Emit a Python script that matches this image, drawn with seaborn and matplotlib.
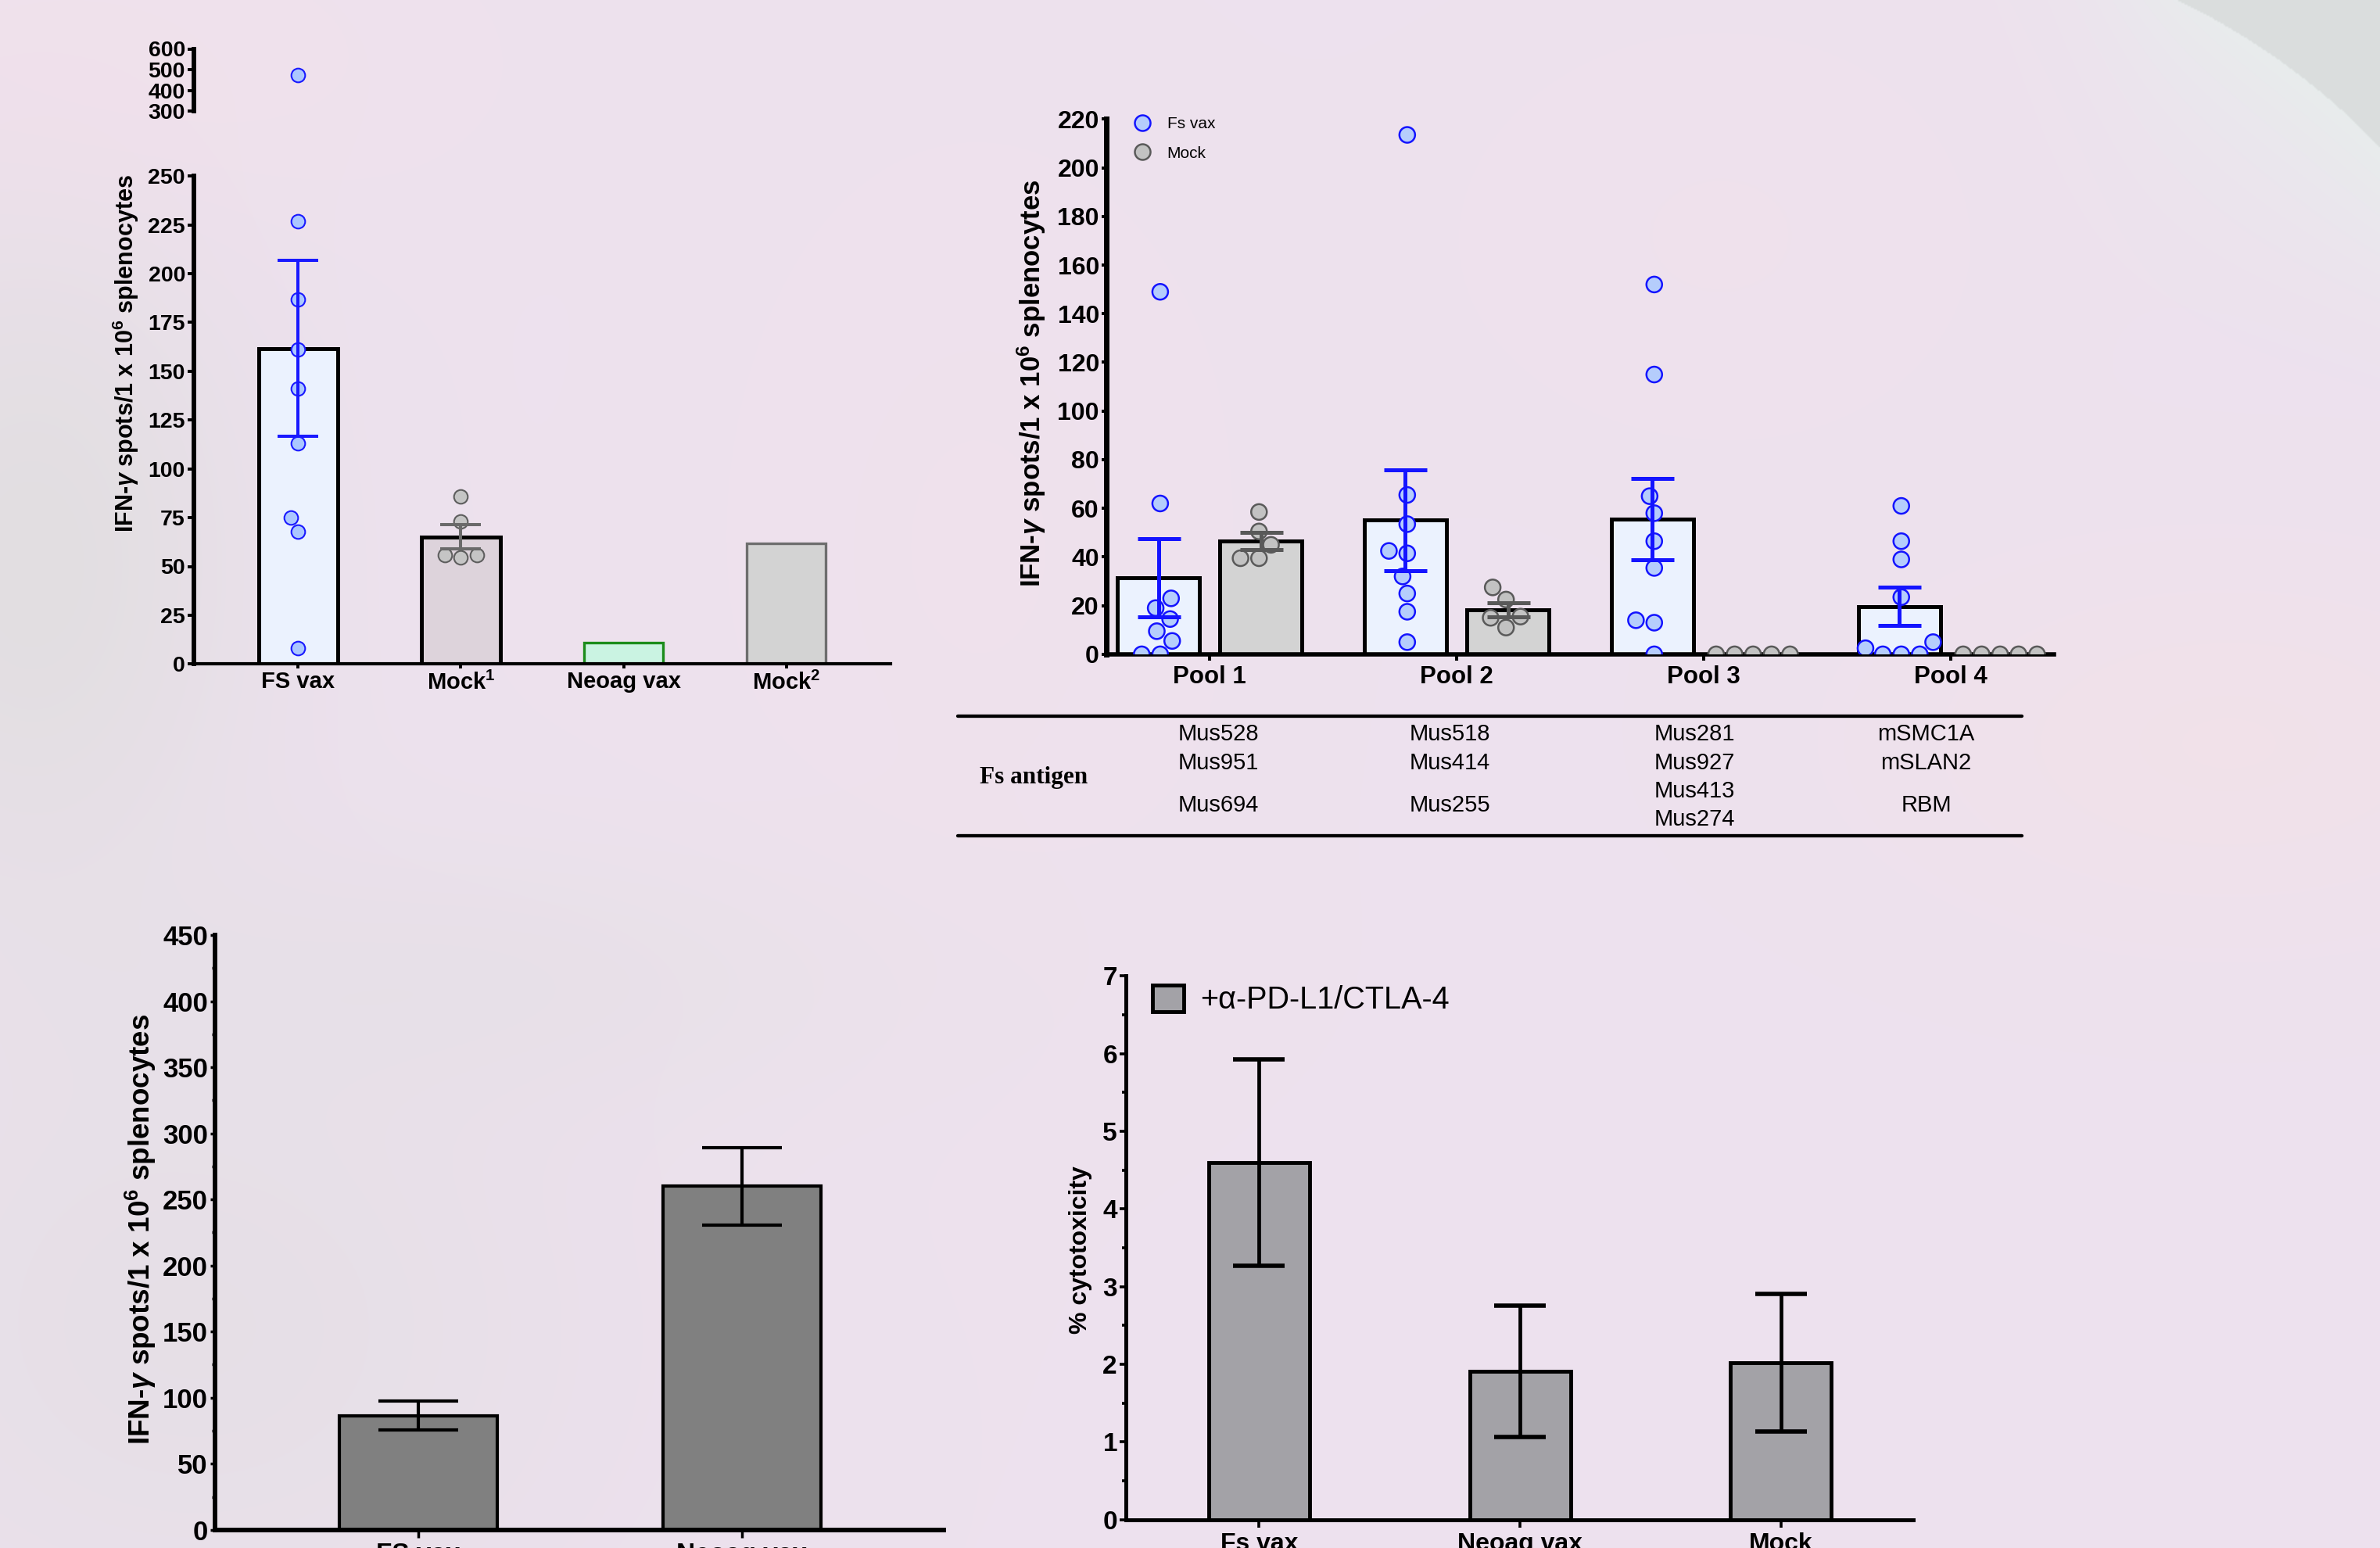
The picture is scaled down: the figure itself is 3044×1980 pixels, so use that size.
import warnings
warnings.filterwarnings("ignore")
import numpy as np
import pandas as pd
import matplotlib
matplotlib.use("Agg")
import matplotlib.pyplot as plt
from matplotlib.lines import Line2D
from matplotlib.patches import Patch
from matplotlib.ticker import MultipleLocator
import seaborn as sns

# ------------------------------------------------------------------ data
# Panel A (ELISpot, individual mice)
a_groups = ["FS vax", "Mock$^1$", "Neoag vax", "Mock$^2$"]
a_fs_vax = [475, 227, 187, 161, 141, 113, 75, 68, 8]
a_mock1 = [86, 73, 54.5, 56, 56]
a_neoag = [11]
a_mock2 = [62]

# Panel B (peptide pools)
b_pools = ["Pool 1", "Pool 2", "Pool 3", "Pool 4"]
b_groups = ["Fs vax", "Mock"]
b_fs_pool1 = [149, 62, 23, 19, 14.5, 9.5, 5.5, 0, 0]
b_fs_pool2 = [213.5, 65.5, 53.5, 42.5, 41.5, 32, 25, 17.5, 5]
b_fs_pool3 = [152, 115, 65, 58, 46.5, 35.5, 14, 13, 0]
b_fs_pool4 = [61, 46.5, 39, 23.5, 5, 2.5, 0, 0, 0]
b_mock_pool1 = [58.5, 50.5, 45, 39.5, 39.5]
b_mock_pool2 = [27.5, 22.5, 15.5, 15, 11]
b_mock_pool3 = [0, 0, 0, 0, 0]
b_mock_pool4 = [0, 0, 0, 0, 0]

# Table under panel B
tbl_header = "Fs antigen"
tbl_pool1 = ["Mus528", "Mus951", "Mus694"]
tbl_pool2 = ["Mus518", "Mus414", "Mus255"]
tbl_pool3 = ["Mus281", "Mus927", "Mus413", "Mus274"]
tbl_pool4 = ["mSMC1A", "mSLAN2", "RBM"]

# Panel C
c_groups = ["FS vax", "Neoag vax"]
c_means = [86.5, 260]
c_errs = [10.8, 29.3]

# Panel D
d_groups = ["Fs vax", "Neoag vax", "Mock"]
d_means = [4.6, 1.91, 2.02]
d_errs = [1.33, 0.85, 0.89]
d_legend = "+\u03b1-PD-L1/CTLA-4"

ylabel_ifn = "IFN-$\\gamma$ spots/1 x 10$^{\\mathbf{6}}$ splenocytes"

# ------------------------------------------------------------------ style
sns.set_theme(style="ticks")
plt.rcParams.update({
    "font.family": ["Liberation Sans", "DejaVu Sans"],
    "font.weight": "bold",
    "mathtext.fontset": "custom",
    "mathtext.rm": "Liberation Sans",
    "mathtext.it": "Liberation Sans:italic",
    "mathtext.bf": "Liberation Sans:bold",
    "axes.edgecolor": "black",
    "xtick.color": "black",
    "ytick.color": "black",
    "text.color": "black",
    "axes.labelcolor": "black",
})

W, H = 3044, 1980
fig = plt.figure(figsize=(W / 100, H / 100), dpi=100)
fig.patch.set_facecolor("#ece1ee")


def rect(l, t, r, b):
    return [l / W, 1 - b / H, (r - l) / W, (b - t) / H]


def fx(x):
    return x / W


def fy(y):
    return 1 - y / H


# ------------------------------------------------------------------ background
yy, xx = np.mgrid[0:990, 0:1522].astype(float)
xx *= 2.0
yy *= 2.0
img = np.empty((990, 1522, 3))
img[:] = (0.930, 0.884, 0.934)


def blend(weight, color):
    w = np.clip(weight, 0, 1)[..., None]
    img[:] = img * (1 - w) + np.asarray(color) * w


def gauss(cx, cy, sx, sy):
    return np.exp(-0.5 * (((xx - cx) / sx) ** 2 + ((yy - cy) / sy) ** 2))


blend(0.7 * gauss(40, 720, 200, 320), (0.868, 0.868, 0.862))
blend(0.55 * gauss(250, 1700, 380, 320), (0.882, 0.872, 0.882))
blend(0.4 * gauss(650, 1250, 380, 120), (0.885, 0.88, 0.885))
blend(0.55 * gauss(2850, 950, 300, 160), (0.958, 0.882, 0.902))
blend(0.45 * gauss(150, 80, 300, 150), (0.958, 0.882, 0.918))
blend(0.35 * gauss(1250, 700, 250, 400), (0.952, 0.886, 0.918))
blend(0.35 * gauss(2200, 300, 250, 200), (0.952, 0.888, 0.92))
d = np.hypot(xx - 2400, yy - 800)
win = 1 / (1 + np.exp(-(xx - 2700) / 60)) / (1 + np.exp((yy - 380) / 60))
blend(0.85 * np.exp(-np.clip(888 - d, 0, None) / 160) * win, (0.905, 0.935, 0.925))
outside = (d > 888) & (xx > 2400) & (yy < 800)
img[outside] = (0.855, 0.870, 0.870)

ax_bg = fig.add_axes([0, 0, 1, 1], zorder=-5)
ax_bg.imshow(img, extent=[0, W, H, 0], aspect="auto", interpolation="bilinear")
ax_bg.set_axis_off()

# ------------------------------------------------------------------ panel A
axA = fig.add_axes(rect(248, 225.3, 1139, 849.3), facecolor="none")
axAu = fig.add_axes(rect(248, 62.5, 1139, 142.2), facecolor="none")

a_df = pd.DataFrame({
    "group": [a_groups[0]] * len(a_fs_vax) + [a_groups[1]] * len(a_mock1)
    + [a_groups[2]] * len(a_neoag) + [a_groups[3]] * len(a_mock2),
    "value": a_fs_vax + a_mock1 + a_neoag + a_mock2,
})
a_face = ["#ebf2fe", "#ddd3db", "#caf3e2", "#d3d3d3"]
a_edge = ["black", "black", "#1c8c1c", "#6e6e6e"]
a_lw = [3.6, 3.6, 2.4, 2.4]

sns.barplot(data=a_df, x="group", y="value", hue="group", order=a_groups,
            hue_order=a_groups, palette=dict(zip(a_groups, a_face)), saturation=1,
            errorbar=None, width=0.485, edgecolor="black", linewidth=3.6,
            legend=False, ax=axA)
for p in axA.patches:
    i = int(round(p.get_x() + p.get_width() / 2))
    p.set_edgecolor(a_edge[i])
    p.set_linewidth(a_lw[i])

a_pt_style = {a_groups[0]: ("#abc7ff", "#1919ff"), a_groups[1]: ("#c5c5c5", "#5e5e5e")}
for ax in (axA, axAu):
    for g, (fc, ec) in a_pt_style.items():
        sns.swarmplot(data=a_df[a_df.group == g], x="group", y="value", order=a_groups,
                      color=fc, edgecolor=ec, linewidth=1.5, size=12.7, ax=ax, zorder=4)

a_stats = a_df.groupby("group")["value"].agg(["mean", "sem"])
a_err_color = {a_groups[0]: "#1919ff", a_groups[1]: "#6a6a6a"}
for p in list(axA.patches):
    c = p.get_x() + p.get_width() / 2
    g = a_groups[int(round(c))]
    if g in a_err_color:
        axA.errorbar(c, a_stats.loc[g, "mean"], yerr=a_stats.loc[g, "sem"],
                     color=a_err_color[g], lw=2.9, capsize=18.4, capthick=2.9, zorder=5)

axA.set_ylim(0, 250)
axA.set_xlim(-0.64, 3.64)
axA.yaxis.set_major_locator(MultipleLocator(25))
axA.set_xlabel("")
axA.set_ylabel("")
for s in ("top", "right"):
    axA.spines[s].set_visible(False)
axA.spines["left"].set_linewidth(4.2)
axA.spines["bottom"].set_linewidth(3.0)
axA.tick_params(axis="y", length=6, width=2.8, labelsize=20.5, pad=2)
axA.tick_params(axis="x", length=4.5, width=2.8, labelsize=21, pad=2)

axAu.set_ylim(300, 600)
axAu.set_xlim(-0.64, 3.64)
axAu.yaxis.set_major_locator(MultipleLocator(100))
axAu.set_xticks([])
axAu.set_xlabel("")
axAu.set_ylabel("")
for s in ("top", "right", "bottom"):
    axAu.spines[s].set_visible(False)
axAu.spines["left"].set_linewidth(4.2)
axAu.tick_params(axis="y", length=6, width=2.8, labelsize=20.5, pad=2)

fig.text(fx(161), fy(452), ylabel_ifn, rotation=90, ha="center", va="center",
         fontsize=22, fontweight="bold")

# ------------------------------------------------------------------ panel B
axB = fig.add_axes(rect(1415, 152.3, 2627, 836.9), facecolor="none")
b_fs = [b_fs_pool1, b_fs_pool2, b_fs_pool3, b_fs_pool4]
b_mock = [b_mock_pool1, b_mock_pool2, b_mock_pool3, b_mock_pool4]
rows = []
for pool, fs, mk in zip(b_pools, b_fs, b_mock):
    rows += [(pool, b_groups[0], v) for v in fs]
    rows += [(pool, b_groups[1], v) for v in mk]
b_df = pd.DataFrame(rows, columns=["pool", "group", "value"])

b_bar_face = {b_groups[0]: "#ebf2fe", b_groups[1]: "#d3d3d3"}
b_pt_face = {b_groups[0]: "#b5cdfc", b_groups[1]: "#c2c2c2"}
b_pt_edge = {b_groups[0]: "#1414ff", b_groups[1]: "#5a5a5a"}
b_err_color = {b_groups[0]: "#1414ff", b_groups[1]: "#595959"}

sns.barplot(data=b_df, x="pool", y="value", hue="group", order=b_pools,
            hue_order=b_groups, palette=b_bar_face, saturation=1, errorbar=None,
            width=0.83, gap=0.2, edgecolor="black", linewidth=3.6, legend=False, ax=axB)
for g in b_groups:
    sns.swarmplot(data=b_df[b_df.group == g], x="pool", y="value", hue="group",
                  order=b_pools, hue_order=b_groups, palette=b_pt_face, dodge=True,
                  size=14.4, edgecolor=b_pt_edge[g], linewidth=1.8, legend=False,
                  ax=axB, zorder=4)

b_stats = b_df.groupby(["pool", "group"])["value"].agg(["mean", "sem"])
for p in list(axB.patches):
    c = p.get_x() + p.get_width() / 2
    i = int(round(c))
    g = b_groups[0] if c < i else b_groups[1]
    m, s = b_stats.loc[(b_pools[i], g)]
    if s > 0:
        axB.errorbar(c, m, yerr=s, color=b_err_color[g], lw=3.6, capsize=19.8,
                     capthick=3.6, zorder=5)

axB.set_ylim(0, 220)
axB.set_xlim(-0.418, 3.418)
axB.yaxis.set_major_locator(MultipleLocator(20))
axB.set_xlabel("")
axB.set_ylabel("")
for s in ("top", "right"):
    axB.spines[s].set_visible(False)
axB.spines["left"].set_linewidth(5.0)
axB.spines["bottom"].set_linewidth(4.0)
axB.tick_params(axis="y", length=4.5, width=2.9, labelsize=23, pad=2)
axB.tick_params(axis="x", length=6, width=2.9, labelsize=22.5, pad=4)

handles = [Line2D([], [], ls="", marker="o", markersize=14.4,
                  markerfacecolor=b_pt_face[g], markeredgecolor=b_pt_edge[g],
                  markeredgewidth=1.8) for g in b_groups]
axB.legend(handles, b_groups, loc="upper left", bbox_to_anchor=(fx(1451), fy(149)),
           bbox_transform=fig.transFigure, frameon=False, borderpad=0, borderaxespad=0,
           handlelength=1.0, handletextpad=1.0, labelspacing=0.9,
           prop={"size": 15, "weight": "normal"})

fig.text(fx(1318.8), fy(490), ylabel_ifn, rotation=90, ha="center", va="center",
         fontsize=25, fontweight="bold")

# ------------------------------------------------------------------ table
for yl in (915.7, 1069):
    fig.add_artist(Line2D([fx(1225), fx(2586)], [fy(yl), fy(yl)],
                          transform=fig.transFigure, color="black", lw=3.1))
fig.text(fx(1322), fy(995), tbl_header, family=["Liberation Serif", "DejaVu Serif"],
         fontweight="bold", fontsize=22.5, ha="center", va="center")
tbl_cols_x = [1558, 1854, 2167.5, 2463.6]
for x, items in zip(tbl_cols_x, [tbl_pool1, tbl_pool2, tbl_pool3, tbl_pool4]):
    n_rest = len(items) - 2
    ys = [939.3, 976.3] + [1030 + (k - (n_rest - 1) / 2) * 36.6 for k in range(n_rest)]
    for yv, s in zip(ys, items):
        fig.text(fx(x), fy(yv), s, ha="center", va="center", fontsize=21,
                 fontweight="normal")

# ------------------------------------------------------------------ panel C
axC = fig.add_axes(rect(275, 1196, 1207, 1956.8), facecolor="none")
sns.barplot(x=c_groups, y=c_means, order=c_groups, color="#808080", saturation=1,
            width=0.488, edgecolor="black", linewidth=3.0, errorbar=None, ax=axC)
for p, m, e in zip(sorted(axC.patches, key=lambda q: q.get_x()), c_means, c_errs):
    axC.errorbar(p.get_x() + p.get_width() / 2, m, yerr=e, color="black", lw=3.0,
                 capsize=37, capthick=3.0, zorder=5)
axC.set_ylim(0, 450)
axC.set_xlim(-0.628, 1.624)
axC.yaxis.set_major_locator(MultipleLocator(50))
axC.yaxis.set_minor_locator(MultipleLocator(25))
for s in ("top", "right"):
    axC.spines[s].set_visible(False)
axC.spines["left"].set_linewidth(4.2)
axC.spines["bottom"].set_linewidth(4.2)
axC.tick_params(axis="y", which="major", length=4.5, width=2.5, labelsize=25, pad=2)
axC.tick_params(axis="y", which="minor", length=3.2, width=2.5)
axC.tick_params(axis="x", length=7, width=2.5, labelsize=24, pad=5)
axC.set_xlabel("")
axC.set_ylabel("")
fig.text(fx(180), fy(1572), ylabel_ifn, rotation=90, ha="center", va="center",
         fontsize=26.5, fontweight="bold")

# ------------------------------------------------------------------ panel D
axD = fig.add_axes(rect(1440, 1248.3, 2446.6, 1943.7), facecolor="none")
d_color = "#a3a2a7"
sns.barplot(x=d_groups, y=d_means, order=d_groups, color=d_color, saturation=1,
            width=0.387, edgecolor="black", linewidth=3.5, errorbar=None, ax=axD)
for p, m, e in zip(sorted(axD.patches, key=lambda q: q.get_x()), d_means, d_errs):
    axD.errorbar(p.get_x() + p.get_width() / 2, m, yerr=e, color="black", lw=3.4,
                 capsize=23.8, capthick=4.0, zorder=5)
axD.set_ylim(0, 7)
axD.set_xlim(-0.511, 2.506)
axD.yaxis.set_major_locator(MultipleLocator(1))
axD.yaxis.set_minor_locator(MultipleLocator(0.5))
for s in ("top", "right"):
    axD.spines[s].set_visible(False)
axD.spines["left"].set_linewidth(3.6)
axD.spines["bottom"].set_linewidth(3.6)
axD.tick_params(axis="y", which="major", length=6, width=2.6, labelsize=24, pad=2)
axD.tick_params(axis="y", which="minor", length=3.6, width=2.6)
axD.tick_params(axis="x", length=7.5, width=2.6, labelsize=23, pad=4.5)
axD.set_xlabel("")
axD.set_ylabel("")
axD.legend([Patch(facecolor=d_color, edgecolor="black", linewidth=3.5)], [d_legend],
           loc="upper left", bbox_to_anchor=(fx(1474), fy(1260)),
           bbox_transform=fig.transFigure, frameon=False, borderpad=0, borderaxespad=0,
           handlelength=1.0, handleheight=0.93, handletextpad=0.55,
           prop={"size": 28.5, "weight": "normal"})
fig.text(fx(1382), fy(1599), "% cytotoxicity", rotation=90, ha="center", va="center",
         fontsize=23, fontweight="bold")

fig.savefig("out.png", dpi=100, facecolor=fig.get_facecolor())
